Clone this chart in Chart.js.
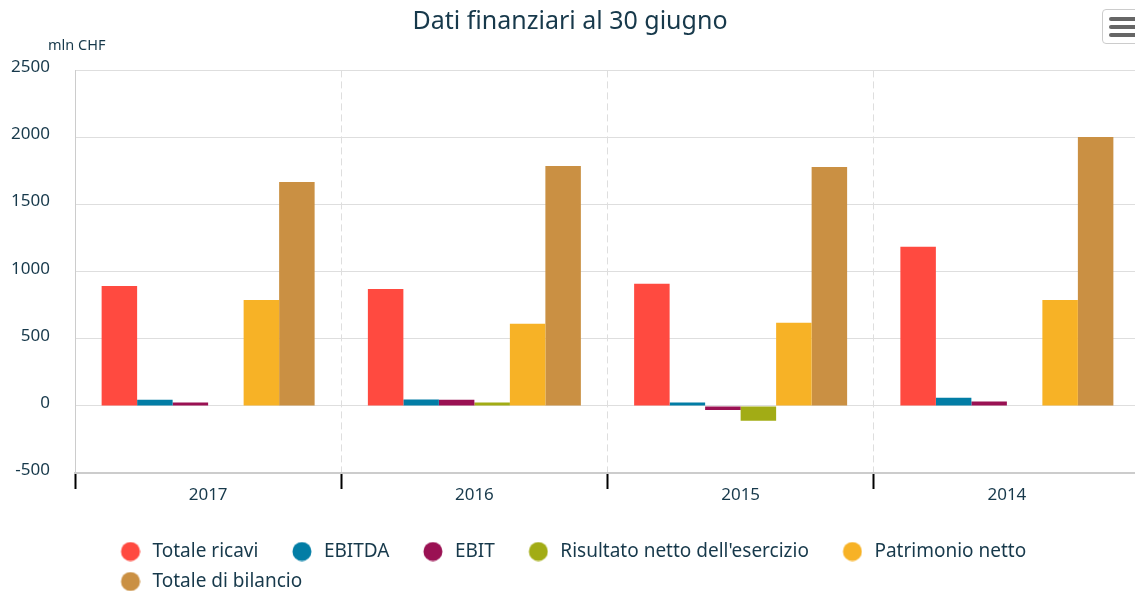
<!DOCTYPE html>
<html>
<head>
<meta charset="utf-8">
<script src="https://cdn.jsdelivr.net/npm/chart.js@4.4.1/dist/chart.umd.min.js"></script>
<style>
  html, body { margin: 0; padding: 0; background: #fff; }
  #frame { position: relative; width: 1135px; height: 591px; overflow: hidden; }
  #box { position: absolute; left: 0; top: 0; width: 1145px; height: 601px; }
  #menu {
    position: absolute; left: 1102px; top: 9px; width: 44px; height: 35px;
    border: 1px solid #ccc; border-radius: 4px; background: #fff; box-sizing: border-box;
  }
  #menu span {
    position: absolute; left: 6px; width: 32px; height: 4px; border-radius: 2px; background: #666;
  }
</style>
</head>
<body>
<div id="frame">
  <div id="box"><canvas id="chart"></canvas></div>
  <div id="menu"><span style="top:7px"></span><span style="top:15px"></span><span style="top:23px"></span></div>
</div>
<script>
const years = ["2017", "2016", "2015", "2014"];
const totaleRicavi = [893, 872, 910, 1185];
const ebitda = [45, 48, 25, 60];
const ebit = [25, 45, -30, 32];
const risultatoNetto = [null, 25, -110, null];
const patrimonioNetto = [790, 612, 620, 790];
const totaleBilancio = [1668, 1787, 1780, 2003];

const ink = "#17394b";
Chart.defaults.font.family = "'Noto Sans', sans-serif";
Chart.defaults.color = ink;

// legend dot drawn off-centre so the text gap matches the original
function dot(color) {
  const c = document.createElement("canvas");
  c.width = 40;
  c.height = 20;
  const g = c.getContext("2d");
  g.fillStyle = color;
  g.beginPath();
  g.arc(30, 10, 9.5, 0, Math.PI * 2);
  g.fill();
  return c;
}

function series(label, data, color) {
  return {
    label, data,
    backgroundColor: color,
    borderWidth: 0,
    categoryPercentage: 0.8,
    barPercentage: 1
  };
}

const nudge = {
  id: "nudge",
  afterLayout(chart) {
    chart.legend.left += 87;
    const sub = chart.boxes.find(b => b.options && b.options.text === "mln CHF");
    if (sub) sub.left += 48;
  }
};

new Chart(document.getElementById("chart"), {
  type: "bar",
  data: {
    labels: years,
    datasets: [
      series("Totale ricavi", totaleRicavi, "#ff4a40"),
      series("EBITDA", ebitda, "#027da5"),
      series("EBIT", ebit, "#9a1153"),
      series("Risultato netto dell'esercizio", risultatoNetto, "#a2ac15"),
      series("Patrimonio netto", patrimonioNetto, "#f7b226"),
      series("Totale di bilancio", totaleBilancio, "#ca9043")
    ]
  },
  options: {
    responsive: true,
    maintainAspectRatio: false,
    animation: false,
    layout: { padding: { right: 5 } },
    scales: {
      x: {
        grid: {
          offset: true,
          color: c => c.index === 0 ? "rgba(0,0,0,0)" : "#dedede",
          tickColor: "#000",
          tickWidth: 2,
          tickLength: 16
        },
        border: { color: "#ccc", width: 2, dash: [7, 4] },
        ticks: { padding: -4, font: { size: 17 }, color: ink },
        afterFit(s) { s.height = 58; }
      },
      y: {
        min: -500,
        max: 2500,
        ticks: {
          stepSize: 500,
          padding: 25,
          labelOffset: -3,
          font: { size: 17 },
          color: ink,
          callback: v => String(v)
        },
        grid: { color: "#dedede", drawTicks: false },
        border: { color: "#ccc", width: 1 },
        afterFit(s) { s.width = 75; }
      }
    },
    plugins: {
      title: {
        display: true,
        text: "Dati finanziari al 30 giugno",
        color: ink,
        font: { size: 25, weight: "normal" },
        padding: { top: 7, bottom: 0 }
      },
      subtitle: {
        display: true,
        text: "mln CHF",
        align: "start",
        color: ink,
        font: { size: 14.5 },
        padding: { top: 0, bottom: 16 }
      },
      legend: {
        position: "bottom",
        align: "start",
        labels: {
          usePointStyle: true,
          pointStyleWidth: 45,
          font: { size: 19 },
          color: ink,
          padding: 11,
          generateLabels(chart) {
            const items = Chart.defaults.plugins.legend.labels.generateLabels(chart);
            items.forEach(it => { it.pointStyle = dot(it.fillStyle); it.lineWidth = 0; });
            return items;
          }
        }
      },
      tooltip: { enabled: false }
    }
  },
  plugins: [nudge]
});
</script>
</body>
</html>
